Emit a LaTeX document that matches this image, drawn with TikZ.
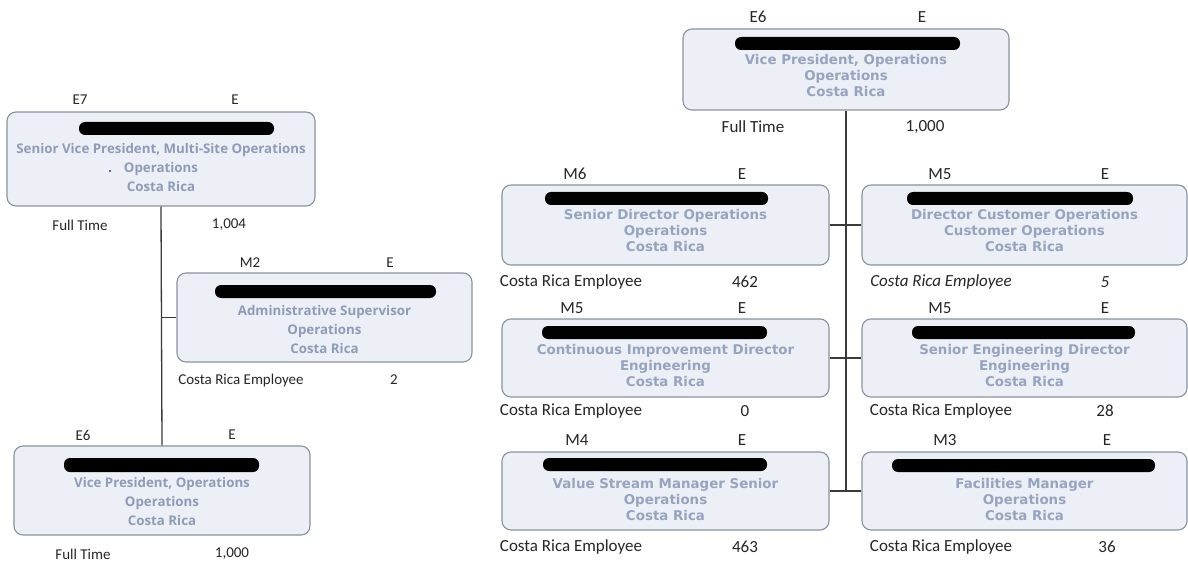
\documentclass[tikz,border=0pt]{standalone}
\usepackage{fontspec}
\setmainfont{Carlito}
\newfontfamily\titlefont{DejaVu Sans}
\newfontfamily\leftfont{Open Sans}
\definecolor{boxfill}{HTML}{ECEFF5}
\definecolor{boxline}{HTML}{8A929E}
\definecolor{titletext}{HTML}{8E9CB8}
\definecolor{titletextR}{HTML}{97A4BF}
\definecolor{linkline}{HTML}{3A3A3A}
\definecolor{dotblue}{HTML}{2B3A8A}
\tikzset{
  unit/.style={draw=boxline, fill=boxfill, line width=1.1pt, rounded corners=9pt, inner sep=0pt},
  redact/.style={fill=black, rounded corners=6pt, inner sep=0pt},
  titleL/.style={text=titletext, font=\leftfont\fontsize{13.3}{19}\selectfont\bfseries, align=center, inner sep=0pt},
  titleR/.style={text=titletextR, font=\titlefont\fontsize{13.4}{16}\selectfont\bfseries, align=center, inner sep=0pt},
  tagL/.style={font=\fontsize{15}{17}\selectfont, inner sep=0pt, text=black!85},
  tagR/.style={font=\fontsize{17}{19}\selectfont, inner sep=0pt, text=black!85},
  link/.style={draw=linkline, line width=1.3pt},
}
\begin{document}
\begin{tikzpicture}[x=1pt, y=-1pt]
\useasboundingbox (0,0) rectangle (1188,561);
\fill[white] (0,0) rectangle (1188,561);

% ---------- left chain ----------
\node[unit, minimum width=308, minimum height=94] (A) at (161,159) {};
\node[redact, minimum width=195, minimum height=13] (Abar) at (176.5,128.5) {};
\node[titleL] (Attl) at (161,168) {Senior Vice President, Multi-Site Operations\\Operations\\Costa Rica};
\node[circle, fill=dotblue, inner sep=0pt, minimum size=2.2pt] (Adot) at (110,171) {};
\node[tagL] (Agr) at (80,100) {E7};
\node[tagL] (Aty) at (235,100) {E};
\node[tagL] (Akind) at (80,225) {Full Time};
\node[tagL] (Anum) at (229,225) {1,004};

\node[unit, minimum width=295, minimum height=89] (B) at (324.5,317.5) {};
\node[redact, minimum width=221, minimum height=13] (Bbar) at (325.5,291.5) {};
\node[titleL] (Bttl) at (324.5,330) {Administrative Supervisor\\Operations\\Costa Rica};
\node[tagL] (Bgr) at (250,263) {M2};
\node[tagL] (Bty) at (390,263) {E};
\node[tagL] (Bkind) at (241,380) {Costa Rica Employee};
\node[tagL] (Bnum) at (394,380) {2};

\node[unit, minimum width=296, minimum height=89] (C) at (162,490.5) {};
\node[redact, minimum width=195, minimum height=14] (Cbar) at (161.5,465) {};
\node[titleL] (Cttl) at (162,502) {Vice President, Operations\\Operations\\Costa Rica};
\node[tagL] (Cgr) at (83,435) {E6};
\node[tagL] (Cty) at (232,435) {E};
\node[tagL] (Ckind) at (83,554) {Full Time};
\node[tagL] (Cnum) at (232,554) {1,000};

\draw[link] (A.south) -- (C.north);
\draw[link] (B.west) -- (B.west -| A.south);

% ---------- right tree ----------
\node[unit, minimum width=326, minimum height=81] (D) at (846,69.5) {};
\node[redact, minimum width=225, minimum height=13] (Dbar) at (847.5,43.5) {};
\node[titleR] (Dttl) at (846,76) {Vice President, Operations\\Operations\\Costa Rica};
\node[tagR] (Dgr) at (758,17) {E6};
\node[tagR] (Dty) at (922,17) {E};
\node[tagR] (Dkind) at (753,127) {Full Time};
\node[tagR] (Dnum) at (925,127) {1,000};

% row 1
\node[unit, minimum width=327, minimum height=80] (P) at (665.5,225) {};
\node[redact, minimum width=223, minimum height=13] (Pbar) at (656.5,198.5) {};
\node[titleR] (Pttl) at (665.5,231) {Senior Director Operations\\Operations\\Costa Rica};
\node[tagR] (Pgr) at (575,174) {M6};
\node[tagR] (Pty) at (742,174) {E};
\node[tagR] (Pkind) at (571,282) {Costa Rica Employee};
\node[tagR] (Pnum) at (745,282) {462};

\node[unit, minimum width=325, minimum height=80] (Q) at (1024.5,225) {};
\node[redact, minimum width=226, minimum height=13] (Qbar) at (1020,198.5) {};
\node[titleR] (Qttl) at (1024.5,231) {Director Customer Operations\\Customer Operations\\Costa Rica};
\node[tagR] (Qgr) at (940,174) {M5};
\node[tagR] (Qty) at (1105,174) {E};
\node[tagR] (Qkind) at (941,282) {\itshape Costa Rica Employee};
\node[tagR] (Qnum) at (1105,282) {\itshape 5};

% row 2
\node[unit, minimum width=327, minimum height=78] (S) at (665.5,358) {};
\node[redact, minimum width=225, minimum height=13] (Sbar) at (654.5,332.5) {};
\node[titleR] (Sttl) at (665.5,366) {Continuous Improvement Director\\Engineering\\Costa Rica};
\node[tagR] (Sgr) at (572,308) {M5};
\node[tagR] (Sty) at (742,308) {E};
\node[tagR] (Skind) at (571,411) {Costa Rica Employee};
\node[tagR] (Snum) at (745,411) {0};

\node[unit, minimum width=325, minimum height=78] (T) at (1024.5,358) {};
\node[redact, minimum width=223, minimum height=13] (Tbar) at (1023.5,332.5) {};
\node[titleR] (Tttl) at (1024.5,366) {Senior Engineering Director\\Engineering\\Costa Rica};
\node[tagR] (Tgr) at (940,308) {M5};
\node[tagR] (Tty) at (1105,308) {E};
\node[tagR] (Tkind) at (941,411) {Costa Rica Employee};
\node[tagR] (Tnum) at (1105,411) {28};

% row 3
\node[unit, minimum width=327, minimum height=78] (U) at (665.5,491) {};
\node[redact, minimum width=224, minimum height=13] (Ubar) at (655,464.5) {};
\node[titleR] (Uttl) at (665.5,500) {Value Stream Manager Senior\\Operations\\Costa Rica};
\node[tagR] (Ugr) at (577,440) {M4};
\node[tagR] (Uty) at (742,440) {E};
\node[tagR] (Ukind) at (571,547) {Costa Rica Employee};
\node[tagR] (Unum) at (745,547) {463};

\node[unit, minimum width=325, minimum height=78] (V) at (1024.5,491) {};
\node[redact, minimum width=263, minimum height=13] (Vbar) at (1023.5,465.5) {};
\node[titleR] (Vttl) at (1024.5,500) {Facilities Manager\\Operations\\Costa Rica};
\node[tagR] (Vgr) at (945,440) {M3};
\node[tagR] (Vty) at (1107,440) {E};
\node[tagR] (Vkind) at (941,547) {Costa Rica Employee};
\node[tagR] (Vnum) at (1107,547) {36};

\coordinate (trunkEnd) at (D.south |- U.east);
\draw[link] (D.south) -- (trunkEnd);
\draw[link] (P.east) -- (Q.west);
\draw[link] (S.east) -- (T.west);
\draw[link] (U.east) -- (V.west);
\end{tikzpicture}
\end{document}
